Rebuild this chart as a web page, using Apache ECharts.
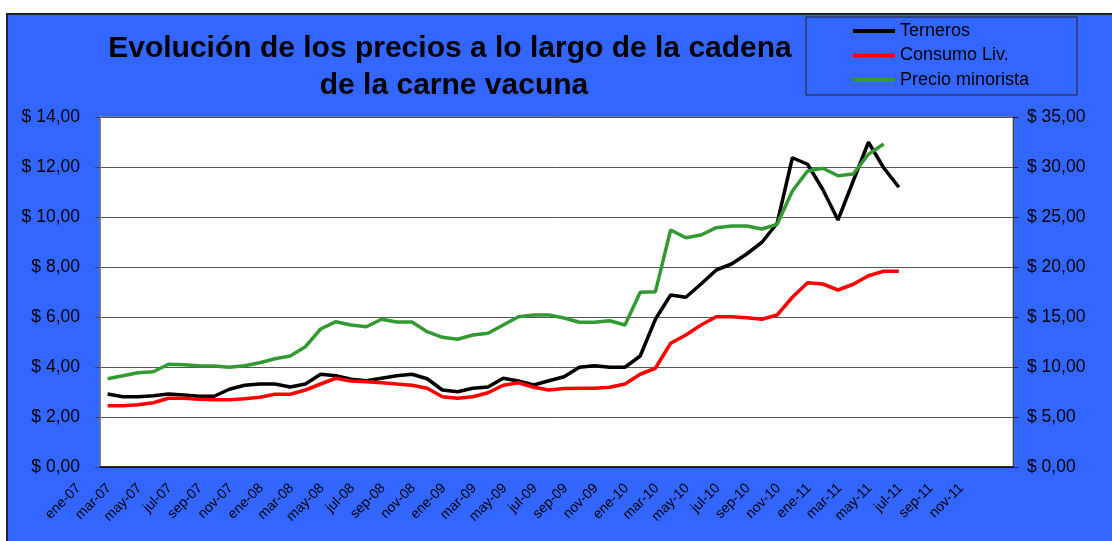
<!DOCTYPE html>
<html>
<head>
<meta charset="utf-8">
<script src="https://cdn.jsdelivr.net/npm/echarts@6/dist/echarts.min.js"></script>
<style>
  html, body { margin: 0; padding: 0; background: #fff; }
  #wrap {
    position: absolute; left: 6px; top: 13px;
    width: 1106px; height: 528px;
    border-left: 2px solid #222; border-top: 2px solid #222;
    background: #3366ff;
  }
  #chart { width: 1104px; height: 526px; }
</style>
</head>
<body>
<div id="wrap"><div id="chart"></div></div>
<script>
// meses y años del eje x
var meses = ['ene', 'feb', 'mar', 'abr', 'may', 'jun', 'jul', 'ago', 'sep', 'oct', 'nov', 'dic'];
var anios = ['07', '08', '09', '10', '11'];

// Terneros ($/kg, eje izquierdo)
var terneros = [2.92, 2.81, 2.81, 2.85, 2.92, 2.88, 2.83, 2.83, 3.11, 3.27,
                3.32, 3.32, 3.20, 3.32, 3.71, 3.65, 3.51, 3.45, 3.55, 3.65,
                3.71, 3.53, 3.08, 3.01, 3.15, 3.20, 3.55, 3.44, 3.28, 3.45,
                3.61, 3.99, 4.05, 3.99, 3.99, 4.44, 5.91, 6.88, 6.79, 7.32,
                7.88, 8.12, 8.52, 8.99, 9.75, 12.37, 12.11, 11.10, 9.88, 11.44,
                12.99, 11.97, 11.19];

// Consumo Liv. (eje izquierdo)
var consumo = [2.45, 2.45, 2.49, 2.57, 2.75, 2.75, 2.71, 2.69, 2.69, 2.73,
               2.79, 2.91, 2.91, 3.08, 3.32, 3.55, 3.44, 3.41, 3.37, 3.32,
               3.27, 3.15, 2.81, 2.75, 2.81, 2.97, 3.27, 3.37, 3.19, 3.08,
               3.14, 3.15, 3.15, 3.19, 3.32, 3.71, 3.95, 4.95, 5.28, 5.68,
               6.01, 6.01, 5.97, 5.91, 6.08, 6.79, 7.37, 7.32, 7.08, 7.31,
               7.65, 7.83, 7.83];

// Precio minorista (eje derecho)
var minorista = [8.83, 9.13, 9.43, 9.53, 10.27, 10.23, 10.13, 10.10, 9.97, 10.13,
                 10.43, 10.83, 11.10, 12.03, 13.80, 14.53, 14.20, 14.03, 14.77, 14.50,
                 14.50, 13.53, 12.97, 12.77, 13.20, 13.37, 14.20, 15.03, 15.20, 15.20,
                 14.90, 14.47, 14.47, 14.63, 14.20, 17.47, 17.53, 23.70, 22.93, 23.20,
                 23.93, 24.10, 24.10, 23.80, 24.27, 27.60, 29.60, 29.87, 29.13, 29.30,
                 31.27, 32.30];

var categorias = [];
anios.forEach(function(a) {
    meses.forEach(function(m) { categorias.push(m + '-' + a); });
});

var FONT = '"Liberation Sans", Arial, sans-serif';

function pesos(v) {
    return '$ ' + v.toFixed(2).replace('.', ',');
}

var option = {
    animation: false,
    textStyle: { fontFamily: FONT },
    graphic: [
        {
            type: 'text', x: 442, y: 34,
            style: {
                text: 'Evolución de los precios a lo largo de la cadena',
                font: 'bold 30px ' + FONT, fill: '#000',
                textAlign: 'center', textVerticalAlign: 'middle'
            }
        },
        {
            type: 'text', x: 446, y: 71,
            style: {
                text: 'de la carne vacuna',
                font: 'bold 30px ' + FONT, fill: '#000',
                textAlign: 'center', textVerticalAlign: 'middle'
            }
        },
        {
            type: 'rect', x: 798, y: 2,
            shape: { width: 271, height: 78 },
            style: { fill: 'transparent', stroke: '#222', lineWidth: 1 }
        }
    ],
    legend: {
        orient: 'vertical',
        left: 840, top: 2,
        icon: 'rect',
        itemWidth: 42, itemHeight: 4, itemGap: 6.5,
        textStyle: { fontSize: 18, lineHeight: 18, color: '#000', fontFamily: FONT },
        data: ['Terneros', 'Consumo Liv.', 'Precio minorista']
    },
    grid: {
        left: 92, right: 99, top: 102, bottom: 74,
        show: true, backgroundColor: '#fff',
        borderColor: '#808080', borderWidth: 1
    },
    xAxis: {
        type: 'category',
        data: categorias,
        boundaryGap: true,
        axisLine: { lineStyle: { color: '#000', width: 1.5 } },
        axisTick: { show: false },
        axisLabel: {
            interval: 1, rotate: 45, fontSize: 14, color: '#000',
            margin: -10, padding: [0, 41, 0, 0], fontFamily: FONT
        }
    },
    yAxis: [
        {
            type: 'value', min: 0, max: 14, interval: 2,
            axisLine: { show: true, lineStyle: { color: '#808080' } },
            axisTick: { show: true, length: 5, lineStyle: { color: '#444' } },
            axisLabel: { formatter: pesos, fontSize: 17.5, color: '#000', margin: 20, fontFamily: FONT },
            splitLine: { show: true, lineStyle: { color: '#555', width: 1 } }
        },
        {
            type: 'value', min: 0, max: 35, interval: 5, position: 'right',
            axisLine: { show: true, lineStyle: { color: '#444' } },
            axisTick: { show: true, length: 5, lineStyle: { color: '#222' } },
            axisLabel: { formatter: pesos, fontSize: 17.5, color: '#000', margin: 14, fontFamily: FONT },
            splitLine: { show: false }
        }
    ],
    series: [
        {
            name: 'Terneros', type: 'line', yAxisIndex: 0,
            data: terneros, symbol: 'none',
            lineStyle: { color: '#000', width: 3.5 }, itemStyle: { color: '#000' }
        },
        {
            name: 'Consumo Liv.', type: 'line', yAxisIndex: 0,
            data: consumo, symbol: 'none',
            lineStyle: { color: '#ff0000', width: 3.5 }, itemStyle: { color: '#ff0000' }
        },
        {
            name: 'Precio minorista', type: 'line', yAxisIndex: 1,
            data: minorista, symbol: 'none',
            lineStyle: { color: '#339933', width: 3.5 }, itemStyle: { color: '#339933' }
        }
    ]
};

echarts.init(document.getElementById('chart')).setOption(option);
</script>
</body>
</html>
